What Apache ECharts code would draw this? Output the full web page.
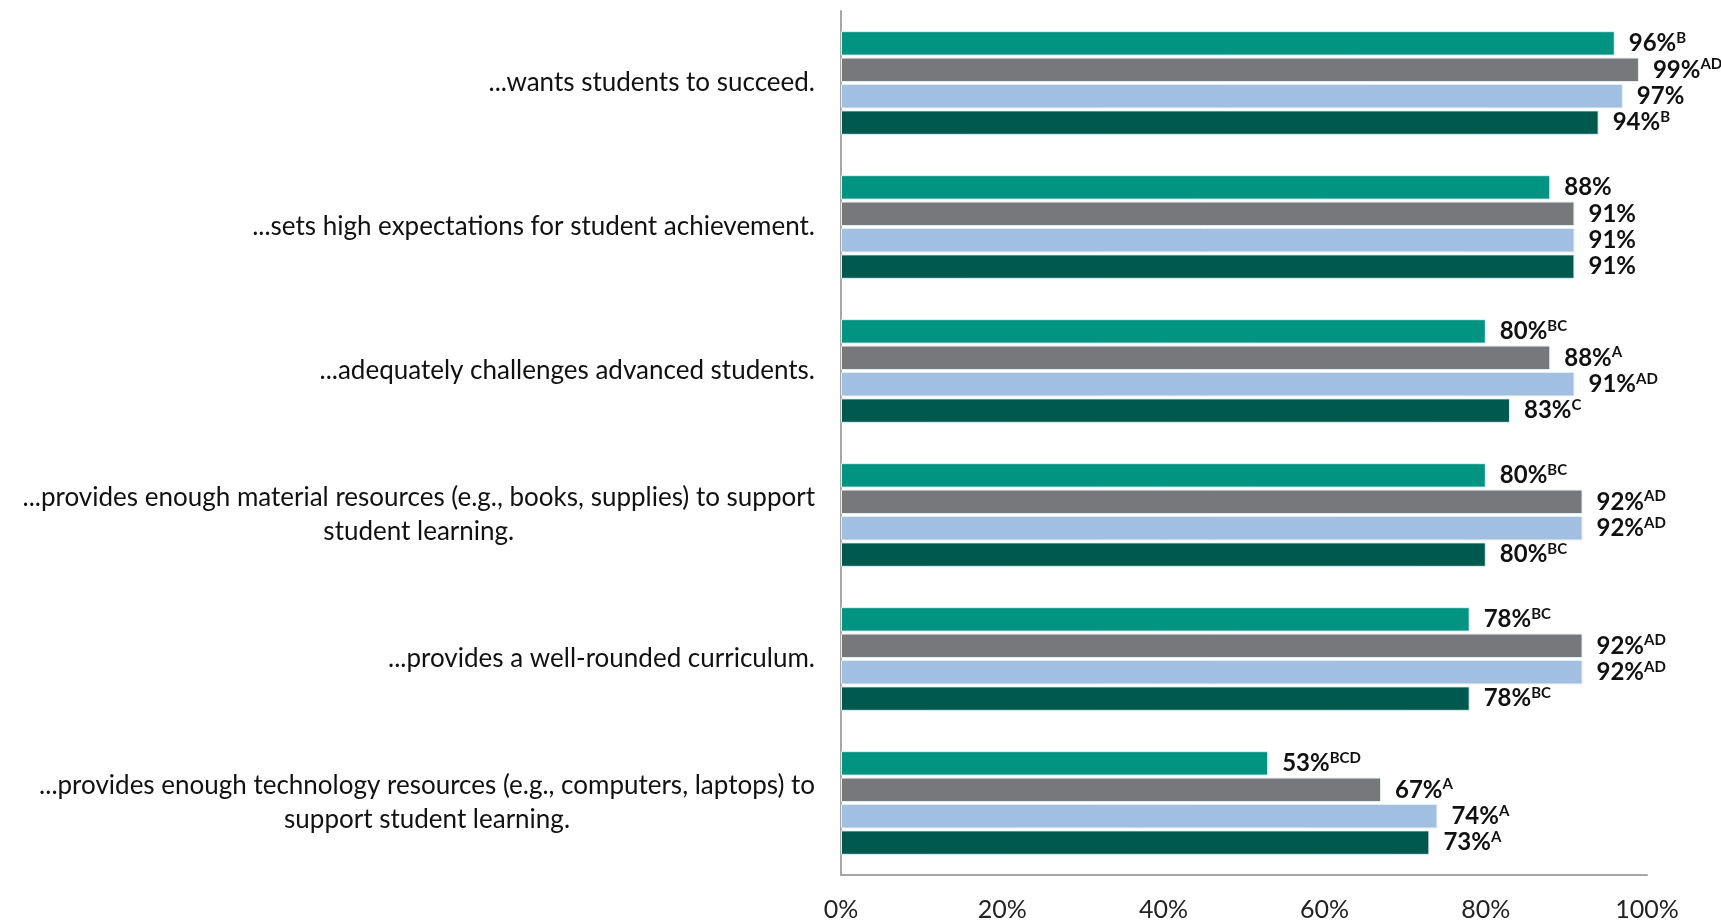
<!DOCTYPE html>
<html>
<head>
<meta charset="utf-8">
<script src="https://cdn.jsdelivr.net/npm/echarts@6/dist/echarts.min.js"></script>
<style>
  html, body { margin: 0; padding: 0; background: #ffffff; }
  #chart { width: 1721px; height: 923px; }
</style>
</head>
<body>
<div id="chart"></div>
<script>
// Statements about the school, top to bottom
const categories = [
  '...wants students to succeed.',
  '...sets high expectations for student achievement.',
  '...adequately challenges advanced students.',
  '...provides enough material resources (e.g., books, supplies) to support\nstudent learning.',
  '...provides a well-rounded curriculum.',
  '...provides enough technology resources (e.g., computers, laptops) to\nsupport student learning.'
];

// Percent agreeing, one array per respondent group
const groupNames = ['A', 'B', 'C', 'D'];
const valuesA = [96, 88, 80, 80, 78, 53];
const valuesB = [99, 91, 88, 92, 92, 67];
const valuesC = [97, 91, 91, 92, 92, 74];
const valuesD = [94, 91, 83, 80, 78, 73];

// Significance letters shown as superscripts after each value
const notesA = ['B', '', 'BC', 'BC', 'BC', 'BCD'];
const notesB = ['AD', '', 'A', 'AD', 'AD', 'A'];
const notesC = ['', '', 'AD', 'AD', 'AD', 'A'];
const notesD = ['B', '', 'C', 'BC', 'BC', 'A'];

const xTicks = [0, 20, 40, 60, 80, 100];

const colors = ['#009481', '#77787b', '#a0bfe1', '#00594f'];
const allValues = [valuesA, valuesB, valuesC, valuesD];
const allNotes = [notesA, notesB, notesC, notesD];

const FONT = 'Lato, "Open Sans", sans-serif';

const chart = echarts.init(document.getElementById('chart'), null, { renderer: 'canvas' });

const series = groupNames.map((name, i) => ({
  name: name,
  type: 'bar',
  data: allValues[i],
  barGap: '8%',
  barCategoryGap: '28%',
  itemStyle: { color: colors[i], borderColor: '#e6eef0', borderWidth: 1 },
  label: {
    show: true,
    position: 'right',
    distance: 14,
    formatter: (p) => {
      const note = allNotes[i][p.dataIndex];
      return '{v|' + p.value + '%}' + (note ? '{s|' + note + '}' : '');
    },
    rich: {
      v: { fontFamily: FONT, fontSize: 24, fontWeight: 'bold', color: '#111', lineHeight: 26 },
      s: { fontFamily: FONT, fontSize: 15, fontWeight: 'bold', color: '#111', verticalAlign: 'top', lineHeight: 26, padding: [0, 0, 10, 0] }
    }
  }
}));

chart.setOption({
  backgroundColor: '#ffffff',
  animation: false,
  grid: { left: 841, right: 74, top: 11, bottom: 48, containLabel: false },
  xAxis: {
    type: 'value',
    min: 0,
    max: 100,
    interval: 20,
    axisLine: { show: true, lineStyle: { color: '#a6a6a6', width: 2 } },
    axisTick: { show: false },
    splitLine: { show: false },
    axisLabel: {
      margin: 22,
      fontFamily: FONT,
      fontSize: 25,
      color: '#222',
      formatter: (v) => (xTicks.indexOf(v) >= 0 ? v + '%' : '')
    }
  },
  yAxis: {
    type: 'category',
    data: categories,
    inverse: true,
    axisLine: { show: true, lineStyle: { color: '#a6a6a6', width: 2 } },
    axisTick: { show: false },
    axisLabel: {
      margin: 26,
      align: 'right',
      formatter: (v) => v.split('\n').map((line) => '{c|' + line + '}').join('\n'),
      rich: {
        c: { fontFamily: FONT, fontSize: 26, color: '#111', align: 'center', lineHeight: 34 }
      }
    }
  },
  series: series
});
</script>
</body>
</html>
